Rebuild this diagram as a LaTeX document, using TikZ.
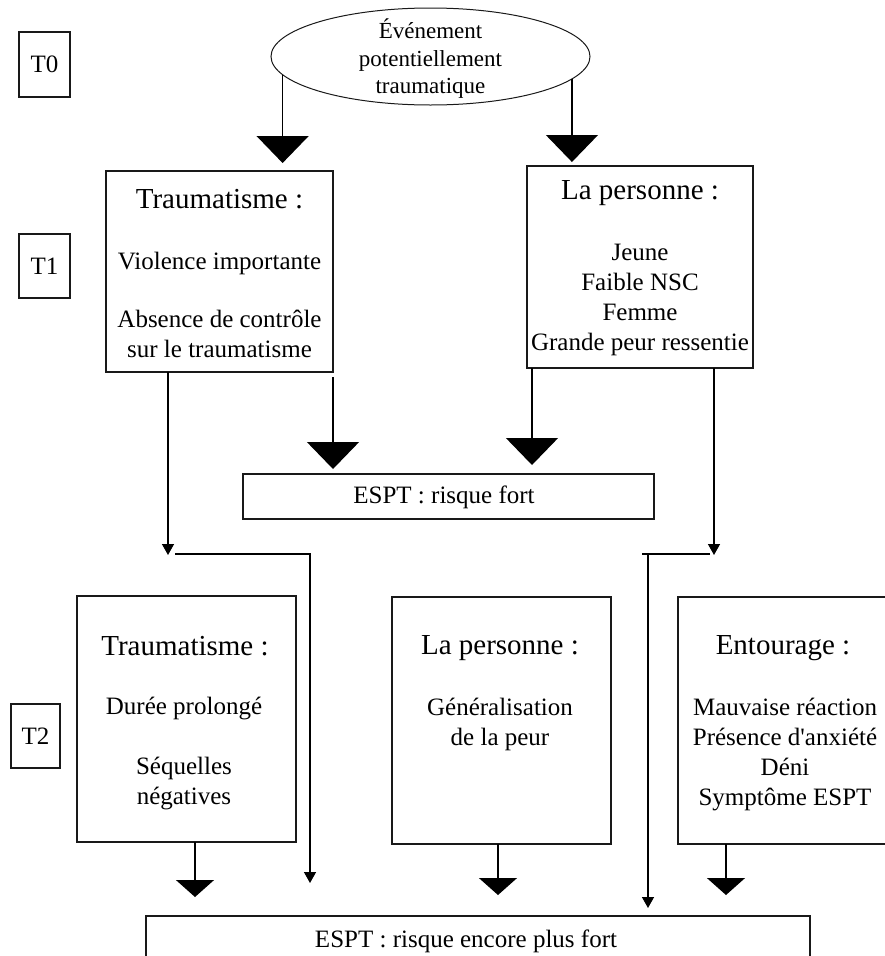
\documentclass[tikz,border=0pt]{standalone}
\usepackage{fontspec}
\setmainfont{Liberation Serif}
\newfontfamily\rawserif{Liberation Serif}
\usetikzlibrary{arrows.meta,shapes.geometric}
\begin{document}
\begin{tikzpicture}[x=1pt,y=-1pt,
  box/.style={draw=black!90, line width=1.4pt, inner sep=0pt, outer sep=0pt},
  hd/.style={font=\fontsize{29}{34}\selectfont, inner sep=0pt},
  bd/.style={font=\fontsize{25}{30}\selectfont, align=center, inner sep=0pt},
  conn/.style={draw=black, line width=1.4pt},
  bigtip/.style={conn, -{Triangle[width=52pt,length=27pt]}},
  midtip/.style={conn, -{Triangle[width=38pt,length=17pt]}},
  smalltip/.style={conn, -{Triangle[width=12pt,length=11pt]}},
]
\useasboundingbox (0,0) rectangle (885,956);
\clip (0,0) rectangle (885,956);

% time labels
\node[box, bd, minimum width=51pt, minimum height=65pt] (t0) at (44.5,64.5) {T0};
\node[box, bd, minimum width=51pt, minimum height=64pt] (t1) at (44.5,266) {T1};
\node[box, bd, minimum width=49pt, minimum height=64pt] (t2) at (35.5,736) {T2};

% event
\node[draw=black!90, line width=1pt, ellipse, minimum width=319pt, minimum height=97pt, inner sep=0pt, outer sep=0pt] (ev) at (430.5,56.5) {};
\node[font=\fontsize{23}{27.5}\selectfont, align=center, inner sep=0pt] (evt) at (430.5,59) {Événement\\potentiellement\\traumatique};

% T1 boxes
\node[box, minimum width=227pt, minimum height=201pt] (t1a) at (219.5,271.5) {};
\node[hd] (t1ah) at (219.5,199) {Traumatisme :};
\node[bd] (t1ab) at (219.5,305) {Violence importante\\[28pt]Absence de contrôle\\sur le traumatisme};

\node[box, minimum width=226pt, minimum height=202pt] (t1b) at (640,267) {};
\node[hd] (t1bh) at (640,193) {La personne :};
\node[bd] (t1bb) at (640,299.5) {Jeune\\Faible NSC\\Femme\\Grande peur ressentie};

% first risk
\node[box, minimum width=411pt, minimum height=45pt] (e1) at (448.5,496.5) {};
\node[bd] (e1t) at (444,497) {ESPT : risque fort};

% T2 boxes
\node[box, minimum width=219pt, minimum height=246pt] (t2a) at (186.5,719) {};
\node[hd] (t2ah) at (185,646) {Traumatisme :};
\node[bd] (t2ab) at (184,753) {Durée prolongé\\[30pt]Séquelles\\négatives};

\node[box, minimum width=219pt, minimum height=247pt] (t2b) at (501.5,720.5) {};
\node[hd] (t2bh) at (500,648) {La personne :};
\node[bd] (t2bb) at (500,724) {Généralisation\\de la peur};

\node[box, minimum width=214pt, minimum height=247pt] (t2c) at (785,720.5) {};
\node[hd] (t2ch) at (783,648) {Entourage :};
\node[bd] (t2cb) at (785,754) {Mauvaise réaction\\Présence d{\rawserif'}anxiété\\Déni\\Symptôme ESPT};

% final risk
\node[box, minimum width=664pt, minimum height=50pt] (e2) at (478,941) {};
\node[bd] (e2t) at (466,941) {ESPT : risque encore plus fort};

% connectors T0 -> T1
\draw[bigtip, shorten >=8pt] (ev.187) -- (ev.187 |- t1a.north);
\draw[bigtip, shorten >=4pt] (ev.351) -- (ev.351 |- t1b.north);

% T1 -> first risk
\draw[bigtip, shorten >=5pt] ([yshift=-5pt]t1a.south east) -- (t1a.south east |- e1.north);
\draw[bigtip, shorten >=9pt] ([xshift=5pt]t1b.south west) -- ([xshift=5pt]t1b.south west |- e1.north);

% T1 -> side lines
\coordinate (j1) at (168,555);
\coordinate (j2) at (714,555);
\draw[smalltip] (t1a.south -| j1) -- (j1);
\draw[smalltip] (t1b.south -| j2) -- (j2);

\coordinate (h1s) at (175,554);
\coordinate (h1c) at (310,554);
\coordinate (h1e) at (310,883);
\draw[smalltip] (h1s) -- (h1c) -- (h1e);

\coordinate (h2s) at (642,554);
\coordinate (h2e) at (710,554);
\draw[conn] (h2s) -- (h2e);
\coordinate (v2s) at (648,554);
\coordinate (v2e) at (648,908);
\draw[smalltip] (v2s) -- (v2e);

% T2 -> final risk
\draw[midtip, shorten >=19pt] ([xshift=8.5pt]t2a.south) -- ([xshift=8.5pt]t2a.south |- e2.north);
\draw[midtip, shorten >=21pt] ([xshift=-3.5pt]t2b.south) -- ([xshift=-3.5pt]t2b.south |- e2.north);
\draw[midtip, shorten >=21pt] ([xshift=-59pt]t2c.south) -- ([xshift=-59pt]t2c.south |- e2.north);
\end{tikzpicture}
\end{document}
